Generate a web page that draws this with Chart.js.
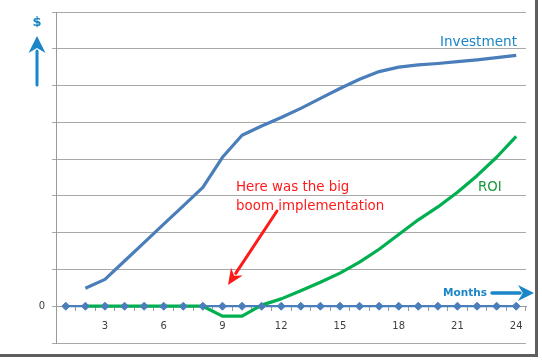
<!DOCTYPE html>
<html>
<head>
<meta charset="utf-8">
<script src="https://cdn.jsdelivr.net/npm/chart.js@4.4.1/dist/chart.umd.min.js"></script>
<style>
  body { margin: 0; background: #fff; }
  #frame {
    position: relative;
    overflow: hidden;
    width: 535px;
    height: 354px;
    border-right: 3px solid #5e5e5e;
    border-bottom: 3px solid #5e5e5e;
  }
  #roiChart { position: absolute; left: 0; top: -1px; }
</style>
</head>
<body>
<div id="frame">
  <canvas id="roiChart" width="535" height="357"></canvas>
</div>
<script>
// months on the x axis
const months = ['1','2','3','4','5','6','7','8','9','10','11','12',
                '13','14','15','16','17','18','19','20','21','22','23','24'];
// only these month labels are printed
const shownMonths = ['3','6','9','12','15','18','21','24'];

// values (units = one gridline)
const investment = [null, 0.49, 0.73, 1.23, 1.73, 2.23, 2.73, 3.23, 4.05, 4.65, 4.9, 5.13,
                    5.38, 5.65, 5.92, 6.17, 6.38, 6.5, 6.56, 6.6, 6.65, 6.7, 6.76, 6.82];
const roi = [null, 0, 0, 0, 0, 0, 0, 0, -0.27, -0.27, 0.03, 0.2,
             0.42, 0.65, 0.9, 1.2, 1.55, 1.95, 2.35, 2.7, 3.1, 3.55, 4.05, 4.62];
const baseline = [0, 0, 0, 0, 0, 0, 0, 0, 0, 0, 0, 0,
                  0, 0, 0, 0, 0, 0, 0, 0, 0, 0, 0, 0];

const lineBlue = '#4a7ebb';
const labelBlue = '#1a86c8';
const green = '#00b050';

function arrow(ctx, x1, y1, x2, y2, width, headLen, headHalf, color) {
    const ang = Math.atan2(y2 - y1, x2 - x1);
    const bx = x2 - Math.cos(ang) * headLen;
    const by = y2 - Math.sin(ang) * headLen;
    ctx.save();
    ctx.strokeStyle = color;
    ctx.fillStyle = color;
    ctx.lineWidth = width;
    ctx.lineCap = 'round';
    ctx.beginPath();
    ctx.moveTo(x1, y1);
    ctx.lineTo(bx + Math.cos(ang) * 2, by + Math.sin(ang) * 2);
    ctx.stroke();
    ctx.beginPath();
    ctx.moveTo(x2, y2);
    ctx.lineTo(bx - Math.sin(ang) * headHalf, by + Math.cos(ang) * headHalf);
    ctx.lineTo(bx + Math.cos(ang) * headLen * 0.3, by + Math.sin(ang) * headLen * 0.3);
    ctx.lineTo(bx + Math.sin(ang) * headHalf, by - Math.cos(ang) * headHalf);
    ctx.closePath();
    ctx.fill();
    ctx.restore();
}

const notes = {
    id: 'notes',
    afterDraw(chart) {
        const ctx = chart.ctx;
        ctx.save();
        ctx.translate(0, 1); // canvas sits 1px above the frame
        ctx.textBaseline = 'middle';

        // y axis: "$" with up arrow
        ctx.fillStyle = labelBlue;
        ctx.textAlign = 'center';
        ctx.font = 'bold 13px "DejaVu Sans"';
        ctx.fillText('$', 37, 23);
        arrow(ctx, 37, 85, 37, 36, 3, 17, 8.5, labelBlue);

        // x axis: "Months" with right arrow
        ctx.textAlign = 'left';
        ctx.font = 'bold 10.5px "DejaVu Sans"';
        ctx.fillText('Months', 443, 293);
        arrow(ctx, 492, 293, 534, 293, 3.5, 16, 8, labelBlue);

        // series names
        ctx.font = '13.6px "DejaVu Sans"';
        ctx.fillText('Investment', 440, 42);
        ctx.fillStyle = '#17963c';
        ctx.font = '13.3px "DejaVu Sans"';
        ctx.fillText('ROI', 478, 188);

        // the boom note
        ctx.fillStyle = '#ff1a1a';
        ctx.font = '13.4px "DejaVu Sans"';
        ctx.fillText('Here was the big', 236, 188);
        ctx.fillText('boom implementation', 236, 207);
        arrow(ctx, 277, 211, 228, 285, 3, 16, 7, '#ff1a1a');
        ctx.restore();
    }
};

new Chart(document.getElementById('roiChart'), {
    type: 'line',
    data: {
        labels: months,
        datasets: [
            {
                label: 'markers',
                data: baseline,
                showLine: false,
                pointStyle: 'rectRot',
                pointRadius: 4,
                pointBackgroundColor: lineBlue,
                pointBorderColor: lineBlue,
                pointBorderWidth: 1,
                order: 0
            },
            {
                label: 'ROI',
                data: roi,
                borderColor: green,
                borderWidth: 3.2,
                pointRadius: 0,
                tension: 0,
                borderJoinStyle: 'round',
                order: 1
            },
            {
                label: 'Investment',
                data: investment,
                borderColor: lineBlue,
                borderWidth: 3.2,
                pointRadius: 0,
                tension: 0,
                borderJoinStyle: 'round',
                order: 2
            },
            {
                label: 'zero',
                data: baseline,
                borderColor: lineBlue,
                borderWidth: 2.2,
                pointRadius: 0,
                order: 3
            }
        ]
    },
    options: {
        responsive: false,
        animation: false,
        devicePixelRatio: 1,
        layout: { padding: { left: 0, right: 9, top: 0, bottom: 0 } },
        plugins: {
            legend: { display: false },
            tooltip: { enabled: false }
        },
        scales: {
            x: {
                type: 'category',
                offset: true,
                position: { y: 0 },
                grid: {
                    offset: true,
                    drawOnChartArea: false,
                    drawTicks: true,
                    tickLength: 4,
                    color: '#9a9a9a'
                },
                border: { display: true, color: '#9a9a9a' },
                ticks: {
                    autoSkip: false,
                    maxRotation: 0,
                    padding: 10,
                    color: '#404040',
                    font: { family: '"DejaVu Sans"', size: 10 },
                    callback: function (value) {
                        const lab = this.getLabelForValue(value);
                        return shownMonths.includes(lab) ? lab : '';
                    }
                }
            },
            y: {
                min: -1,
                max: 8,
                afterFit: function (scale) { scale.width = 56; },
                grid: {
                    color: '#a8a8a8',
                    tickLength: 4
                },
                border: { display: true, color: '#9a9a9a' },
                ticks: {
                    stepSize: 1,
                    padding: 7,
                    color: '#404040',
                    font: { family: '"DejaVu Sans"', size: 10 },
                    callback: v => (v === 0 ? '0' : '')
                }
            }
        }
    },
    plugins: [notes]
});
</script>
</body>
</html>
